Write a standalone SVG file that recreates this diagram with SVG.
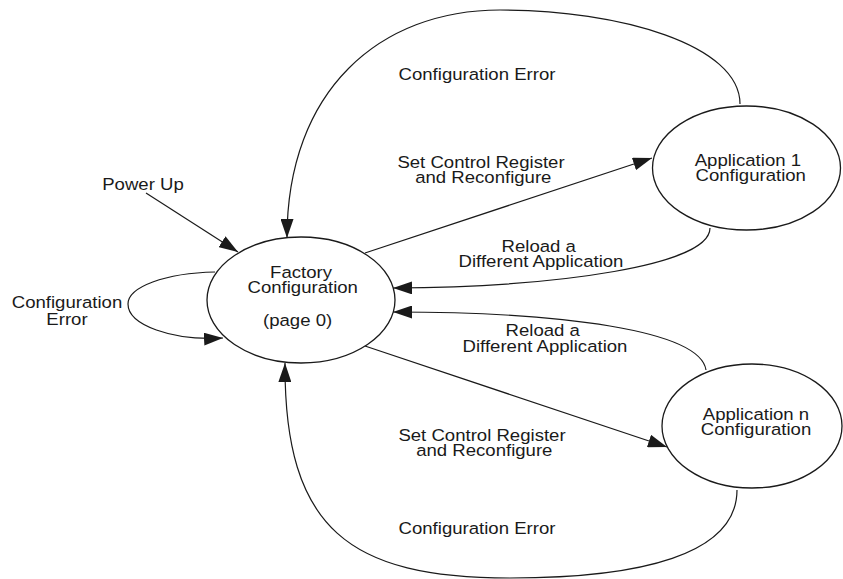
<svg xmlns="http://www.w3.org/2000/svg" width="843" height="579" viewBox="0 0 843 579">
<style>
  .node ellipse { fill: #ffffff; stroke: #1a1a1a; stroke-width: 1.3; }
  .edge { fill: none; stroke: #1a1a1a; stroke-width: 1.2; marker-end: url(#arrow); }
  text { font-family: "Liberation Sans", Arial, Helvetica, sans-serif; font-size: 16.3px; fill: #1a1a1a; text-anchor: middle; }
</style>
<defs>
  <marker id="arrow" markerUnits="userSpaceOnUse" markerWidth="19" markerHeight="13" viewBox="0 0 19 13" refX="19" refY="6.5" orient="auto">
    <path d="M0,0 L19,6.5 L0,13 Z" fill="#1a1a1a"/>
  </marker>
</defs>
<rect width="843" height="579" fill="#ffffff"/>

<g id="connectors">
  <path id="e-powerup" class="edge" d="M146,193 L238,252"/>
  <path id="e-selfloop" class="edge" d="M215,272 C165,273 128,287 128,304 C128,325 172,341 223,338"/>
  <path id="e-set-app1" class="edge" d="M365,253 L652,158"/>
  <path id="e-reload-app1" class="edge" d="M710,228 C710,265 560,287 393,288"/>
  <path id="e-reload-appn" class="edge" d="M706,370 C700,330 560,312 393,312"/>
  <path id="e-set-appn" class="edge" d="M365,346 L667,447"/>
  <path id="e-err-app1" class="edge" d="M740,104 C740,45 620,10 500,10 C380,10 287,90 287,238"/>
  <path id="e-err-appn" class="edge" d="M737,490 C737,555 640,578 510,578 C350,578 284,530 285,363"/>
</g>

<g id="labels">
  <text transform="matrix(1.14 0 0 1 143 190)">Power Up</text>
  <text transform="matrix(1.14 0 0 1 67 308)"><tspan x="0" y="0">Configuration</tspan><tspan x="0" y="17">Error</tspan></text>
  <text transform="matrix(1.14 0 0 1 477 80)">Configuration Error</text>
  <text transform="matrix(1.14 0 0 1 481 168)"><tspan x="0" y="0">Set Control Register</tspan><tspan x="2" y="15.5">and Reconfigure</tspan></text>
  <text transform="matrix(1.14 0 0 1 541 252)"><tspan x="-2" y="0">Reload a</tspan><tspan x="0" y="15">Different Application</tspan></text>
  <text transform="matrix(1.14 0 0 1 545 336)"><tspan x="-2" y="0">Reload a</tspan><tspan x="0" y="16">Different Application</tspan></text>
  <text transform="matrix(1.14 0 0 1 482 441)"><tspan x="0" y="0">Set Control Register</tspan><tspan x="2" y="15">and Reconfigure</tspan></text>
  <text transform="matrix(1.14 0 0 1 477 534)">Configuration Error</text>
</g>

<g id="factory" class="node">
  <ellipse cx="301" cy="300" rx="94" ry="63"/>
  <text transform="matrix(1.14 0 0 1 301 278)"><tspan x="0" y="0">Factory</tspan><tspan x="1.5" y="15">Configuration</tspan><tspan x="-3" y="48">(page 0)</tspan></text>
</g>

<g id="app1" class="node">
  <ellipse cx="746.5" cy="168" rx="94" ry="62"/>
  <text transform="matrix(1.14 0 0 1 749 165.5)"><tspan x="-1" y="0">Application 1</tspan><tspan x="1.5" y="15.5">Configuration</tspan></text>
</g>

<g id="appn" class="node">
  <ellipse cx="752" cy="426" rx="90" ry="62"/>
  <text transform="matrix(1.14 0 0 1 756 419.5)"><tspan x="0" y="0">Application n</tspan><tspan x="0" y="15.5">Configuration</tspan></text>
</g>
</svg>
